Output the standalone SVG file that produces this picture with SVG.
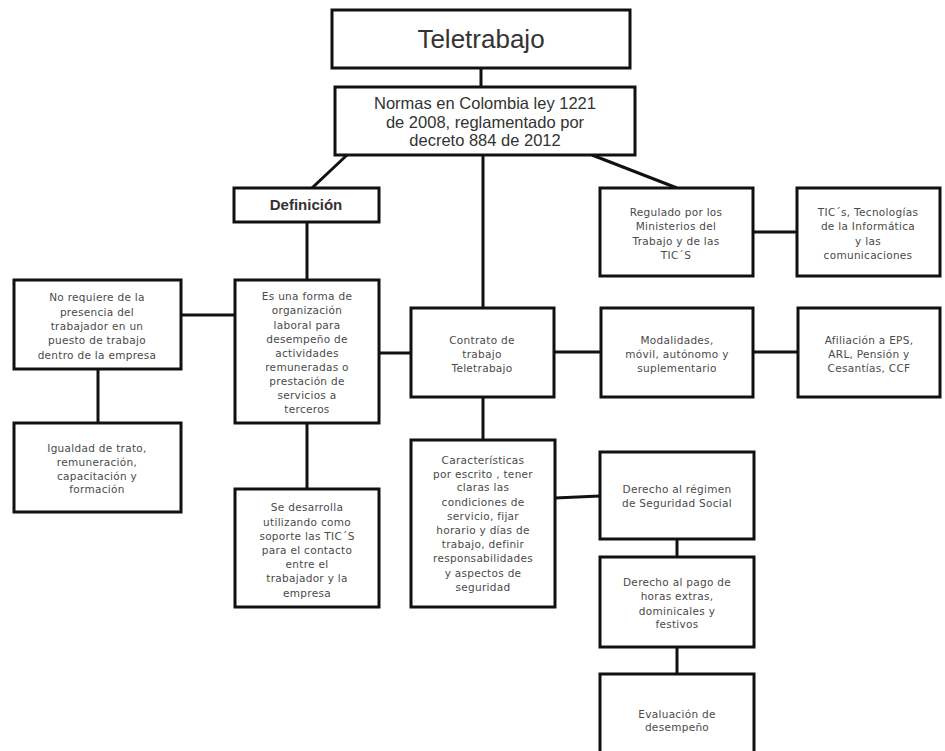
<svg xmlns="http://www.w3.org/2000/svg" width="945" height="751" viewBox="0 0 945 751">
<style>
.box{fill:#fff;stroke:#111;stroke-width:3}
.c{stroke:#111;stroke-width:3;fill:none}
.t{font-family:"DejaVu Sans","Liberation Sans",sans-serif;font-size:10.5px;fill:#4a4a4a;text-anchor:middle;letter-spacing:0.3px}
.big{font-family:"Liberation Sans","DejaVu Sans",sans-serif;fill:#333;text-anchor:middle}
</style>
<rect x="0" y="0" width="945" height="751" fill="#fff"/>
<g id="connectors">
<line class="c" x1="481" y1="68" x2="481" y2="87"/>
<line class="c" x1="347" y1="155" x2="312" y2="188"/>
<line class="c" x1="483" y1="155" x2="483" y2="308"/>
<line class="c" x1="592" y1="155" x2="677" y2="188"/>
<line class="c" x1="307" y1="222" x2="307" y2="280"/>
<line class="c" x1="181" y1="315" x2="235" y2="315"/>
<line class="c" x1="98" y1="369" x2="98" y2="423"/>
<line class="c" x1="307" y1="423" x2="307" y2="489"/>
<line class="c" x1="379" y1="353" x2="411" y2="353"/>
<line class="c" x1="554" y1="352" x2="601" y2="352"/>
<line class="c" x1="753" y1="352" x2="798" y2="352"/>
<line class="c" x1="753" y1="232" x2="797" y2="232"/>
<line class="c" x1="483" y1="397" x2="483" y2="440"/>
<line class="c" x1="555" y1="498" x2="600" y2="496"/>
<line class="c" x1="677" y1="539" x2="677" y2="557"/>
<line class="c" x1="677" y1="647" x2="677" y2="674"/>
</g>
<g id="teletrabajo">
<rect class="box" x="332" y="10" width="298" height="58"/>
<text class="big" x="481" y="48" font-size="26">Teletrabajo</text>
</g>
<g id="normas">
<rect class="box" x="335" y="87" width="300" height="68"/>
<text class="big" font-size="16.5"><tspan x="485" y="109">Normas en Colombia ley 1221</tspan><tspan x="485" y="128">de 2008, reglamentado por</tspan><tspan x="485" y="146">decreto 884 de 2012</tspan></text>
</g>
<g id="definicion">
<rect class="box" x="234" y="188" width="145" height="34"/>
<text class="big" x="306" y="210" font-size="15" font-weight="bold">Definición</text>
</g>
<g id="no-requiere">
<rect class="box" x="14" y="280" width="167" height="89"/>
<text class="t"><tspan x="97" y="301">No requiere de la</tspan><tspan x="97" y="316">presencia del</tspan><tspan x="97" y="330">trabajador en un</tspan><tspan x="97" y="344">puesto de trabajo</tspan><tspan x="97" y="359">dentro de la empresa</tspan></text>
</g>
<g id="es-una-forma">
<rect class="box" x="235" y="280" width="144" height="143"/>
<text class="t"><tspan x="307" y="300">Es una forma de</tspan><tspan x="307" y="314">organización</tspan><tspan x="307" y="329">laboral para</tspan><tspan x="307" y="343">desempeño de</tspan><tspan x="307" y="357">actividades</tspan><tspan x="307" y="371">remuneradas o</tspan><tspan x="307" y="385">prestación de</tspan><tspan x="307" y="399">servicios a</tspan><tspan x="307" y="413">terceros</tspan></text>
</g>
<g id="igualdad">
<rect class="box" x="14" y="423" width="167" height="89"/>
<text class="t"><tspan x="97" y="452">Igualdad de trato,</tspan><tspan x="97" y="466">remuneración,</tspan><tspan x="97" y="480">capacitación y</tspan><tspan x="97" y="493">formación</tspan></text>
</g>
<g id="se-desarrolla">
<rect class="box" x="235" y="489" width="144" height="118"/>
<text class="t"><tspan x="307" y="511">Se desarrolla</tspan><tspan x="307" y="526">utilizando como</tspan><tspan x="307" y="540">soporte las TIC´S</tspan><tspan x="307" y="554">para el contacto</tspan><tspan x="307" y="568">entre el</tspan><tspan x="307" y="582">trabajador y la</tspan><tspan x="307" y="597">empresa</tspan></text>
</g>
<g id="contrato">
<rect class="box" x="411" y="308" width="143" height="89"/>
<text class="t"><tspan x="482" y="344">Contrato de</tspan><tspan x="482" y="358">trabajo</tspan><tspan x="482" y="372">Teletrabajo</tspan></text>
</g>
<g id="caracteristicas">
<rect class="box" x="411" y="440" width="144" height="167"/>
<text class="t"><tspan x="483" y="464">Características</tspan><tspan x="483" y="478">por escrito , tener</tspan><tspan x="483" y="491">claras las</tspan><tspan x="483" y="506">condiciones de</tspan><tspan x="483" y="520">servicio, fijar</tspan><tspan x="483" y="534">horario y días de</tspan><tspan x="483" y="548">trabajo, definir</tspan><tspan x="483" y="562">responsabilidades</tspan><tspan x="483" y="577">y aspectos de</tspan><tspan x="483" y="591">seguridad</tspan></text>
</g>
<g id="regulado">
<rect class="box" x="600" y="188" width="153" height="88"/>
<text class="t"><tspan x="676" y="216">Regulado por los</tspan><tspan x="676" y="230">Ministerios del</tspan><tspan x="676" y="245">Trabajo y de las</tspan><tspan x="676" y="259">TIC´S</tspan></text>
</g>
<g id="tics">
<rect class="box" x="797" y="188" width="143" height="88"/>
<text class="t"><tspan x="868" y="216">TIC´s, Tecnologías</tspan><tspan x="868" y="230">de la Informática</tspan><tspan x="868" y="245">y las</tspan><tspan x="868" y="259">comunicaciones</tspan></text>
</g>
<g id="modalidades">
<rect class="box" x="601" y="308" width="152" height="89"/>
<text class="t"><tspan x="677" y="344">Modalidades,</tspan><tspan x="677" y="358">móvil, autónomo y</tspan><tspan x="677" y="372">suplementario</tspan></text>
</g>
<g id="afiliacion">
<rect class="box" x="798" y="308" width="142" height="89"/>
<text class="t"><tspan x="869" y="344">Afiliación a EPS,</tspan><tspan x="869" y="358">ARL, Pensión y</tspan><tspan x="869" y="372">Cesantías, CCF</tspan></text>
</g>
<g id="derecho-regimen">
<rect class="box" x="600" y="452" width="154" height="87"/>
<text class="t"><tspan x="677" y="493">Derecho al régimen</tspan><tspan x="677" y="507">de Seguridad Social</tspan></text>
</g>
<g id="derecho-pago">
<rect class="box" x="600" y="557" width="154" height="90"/>
<text class="t"><tspan x="677" y="586">Derecho al pago de</tspan><tspan x="677" y="600">horas extras,</tspan><tspan x="677" y="615">dominicales y</tspan><tspan x="677" y="628">festivos</tspan></text>
</g>
<g id="evaluacion">
<rect class="box" x="600" y="674" width="154" height="90"/>
<text class="t"><tspan x="677" y="718">Evaluación de</tspan><tspan x="677" y="731">desempeño</tspan></text>
</g>
</svg>
